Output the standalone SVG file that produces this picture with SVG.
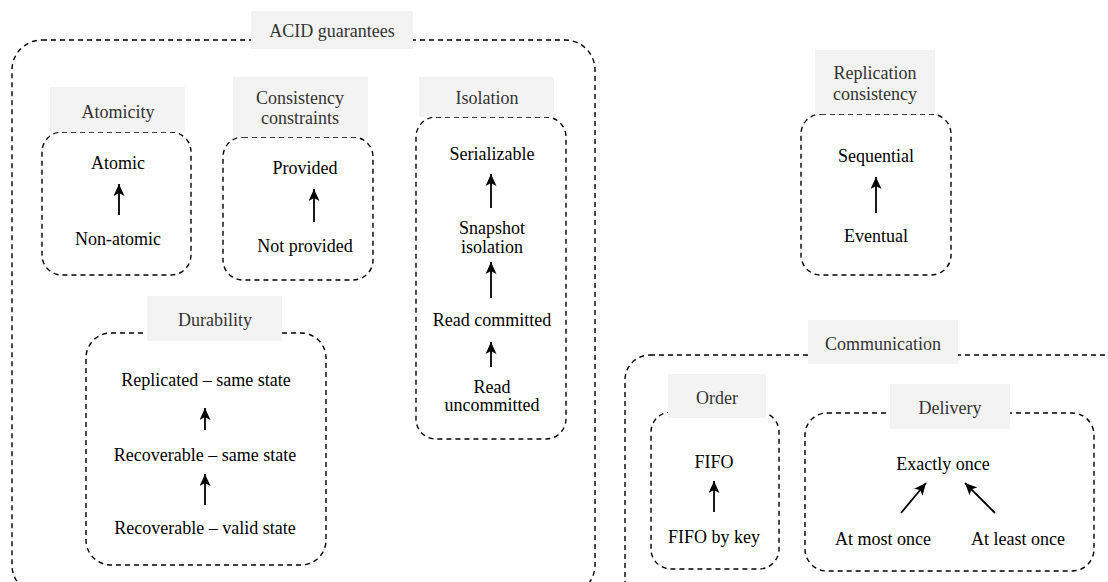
<svg xmlns="http://www.w3.org/2000/svg" width="1108" height="582" viewBox="0 0 1108 582">
  <style>
    .box { fill: none; stroke: #000; stroke-width: 1.4; stroke-dasharray: 5 4; }
    .lbl { fill: #f3f3f3; stroke: none; }
    .lt { fill: #333; }
    .t { fill: #000; }
    .arr { stroke: #000; stroke-width: 1.8; fill: none; marker-end: url(#head); }
  </style>
  <defs>
    <marker id="head" markerUnits="userSpaceOnUse" markerWidth="14" markerHeight="14" refX="12" refY="5.5" orient="auto">
      <path d="M0,0 L12,5.5 L0,11 L3,5.5 z" fill="#000"/>
    </marker>
  </defs>
  <rect width="1108" height="582" fill="#fff"/>

  <g font-family="Liberation Serif, serif" font-size="18" text-anchor="middle">
  <!-- ACID guarantees group -->
  <g id="acid">
    <rect class="box" x="12" y="40" width="583" height="555" rx="30"/>
    <rect class="lbl" x="251" y="11" width="162" height="38"/>
    <text class="lt" x="332" y="37">ACID guarantees</text>
  </g>

  <g id="atomicity">
    <rect class="box" x="42" y="132" width="149" height="143" rx="20"/>
    <rect class="lbl" x="50" y="87" width="135" height="45"/>
    <text class="lt" x="118" y="118">Atomicity</text>
    <text class="t" x="118" y="169">Atomic</text>
    <text class="t" x="118" y="245">Non-atomic</text>
  </g>

  <g id="consistency">
    <rect class="box" x="223" y="137" width="150" height="143" rx="20"/>
    <rect class="lbl" x="233" y="77" width="135" height="60"/>
    <text class="lt" x="300" y="104">Consistency</text>
    <text class="lt" x="300" y="124">constraints</text>
    <text class="t" x="305" y="174">Provided</text>
    <text class="t" x="305" y="252">Not provided</text>
  </g>

  <g id="isolation">
    <rect class="box" x="416" y="117" width="150" height="322" rx="20"/>
    <rect class="lbl" x="419" y="77" width="135" height="40"/>
    <text class="lt" x="487" y="104">Isolation</text>
    <text class="t" x="492" y="160">Serializable</text>
    <text class="t" x="492" y="234">Snapshot</text>
    <text class="t" x="492" y="253">isolation</text>
    <text class="t" x="492" y="326">Read committed</text>
    <text class="t" x="492" y="393">Read</text>
    <text class="t" x="492" y="411">uncommitted</text>
  </g>

  <g id="durability">
    <rect class="box" x="86" y="333" width="240" height="232" rx="25"/>
    <rect class="lbl" x="147" y="296" width="135" height="45"/>
    <text class="lt" x="215" y="326">Durability</text>
    <text class="t" x="206" y="386">Replicated – same state</text>
    <text class="t" x="205" y="461">Recoverable – same state</text>
    <text class="t" x="205" y="534">Recoverable – valid state</text>
  </g>

  <g id="replication">
    <rect class="box" x="801" y="114" width="150" height="161" rx="20"/>
    <rect class="lbl" x="815" y="50" width="120" height="64"/>
    <text class="lt" x="875" y="79">Replication</text>
    <text class="lt" x="875" y="100">consistency</text>
    <text class="t" x="876" y="162">Sequential</text>
    <text class="t" x="876" y="242">Eventual</text>
  </g>

  <!-- Communication group -->
  <g id="communication">
    <rect class="box" x="625" y="355" width="510" height="260" rx="25"/>
    <rect class="lbl" x="808" y="320" width="150" height="44"/>
    <text class="lt" x="883" y="350">Communication</text>
  </g>

  <g id="order">
    <rect class="box" x="651" y="412" width="128" height="157" rx="20"/>
    <rect class="lbl" x="668" y="374" width="98" height="44"/>
    <text class="lt" x="717" y="404">Order</text>
    <text class="t" x="714" y="468">FIFO</text>
    <text class="t" x="714" y="543">FIFO by key</text>
  </g>

  <g id="delivery">
    <rect class="box" x="805" y="413" width="289" height="158" rx="22"/>
    <rect class="lbl" x="890" y="384" width="120" height="45"/>
    <text class="lt" x="950" y="414">Delivery</text>
    <text class="t" x="943" y="470">Exactly once</text>
    <text class="t" x="883" y="545">At most once</text>
    <text class="t" x="1018" y="545">At least once</text>
  </g>
  </g>

  <!-- Connectors -->
  <g id="connectors">
    <line class="arr" x1="119" y1="215" x2="119" y2="184"/>
    <line class="arr" x1="314" y1="222" x2="314" y2="189"/>
    <line class="arr" x1="491" y1="208" x2="491" y2="174"/>
    <line class="arr" x1="491" y1="298" x2="491" y2="262"/>
    <line class="arr" x1="491" y1="367" x2="491" y2="342"/>
    <line class="arr" x1="205" y1="430" x2="205" y2="408"/>
    <line class="arr" x1="205" y1="505" x2="205" y2="474"/>
    <line class="arr" x1="876" y1="213" x2="876" y2="177"/>
    <line class="arr" x1="714" y1="512" x2="714" y2="481"/>
    <line class="arr" x1="901" y1="513" x2="926" y2="483"/>
    <line class="arr" x1="995" y1="513" x2="965" y2="483"/>
  </g>
</svg>
